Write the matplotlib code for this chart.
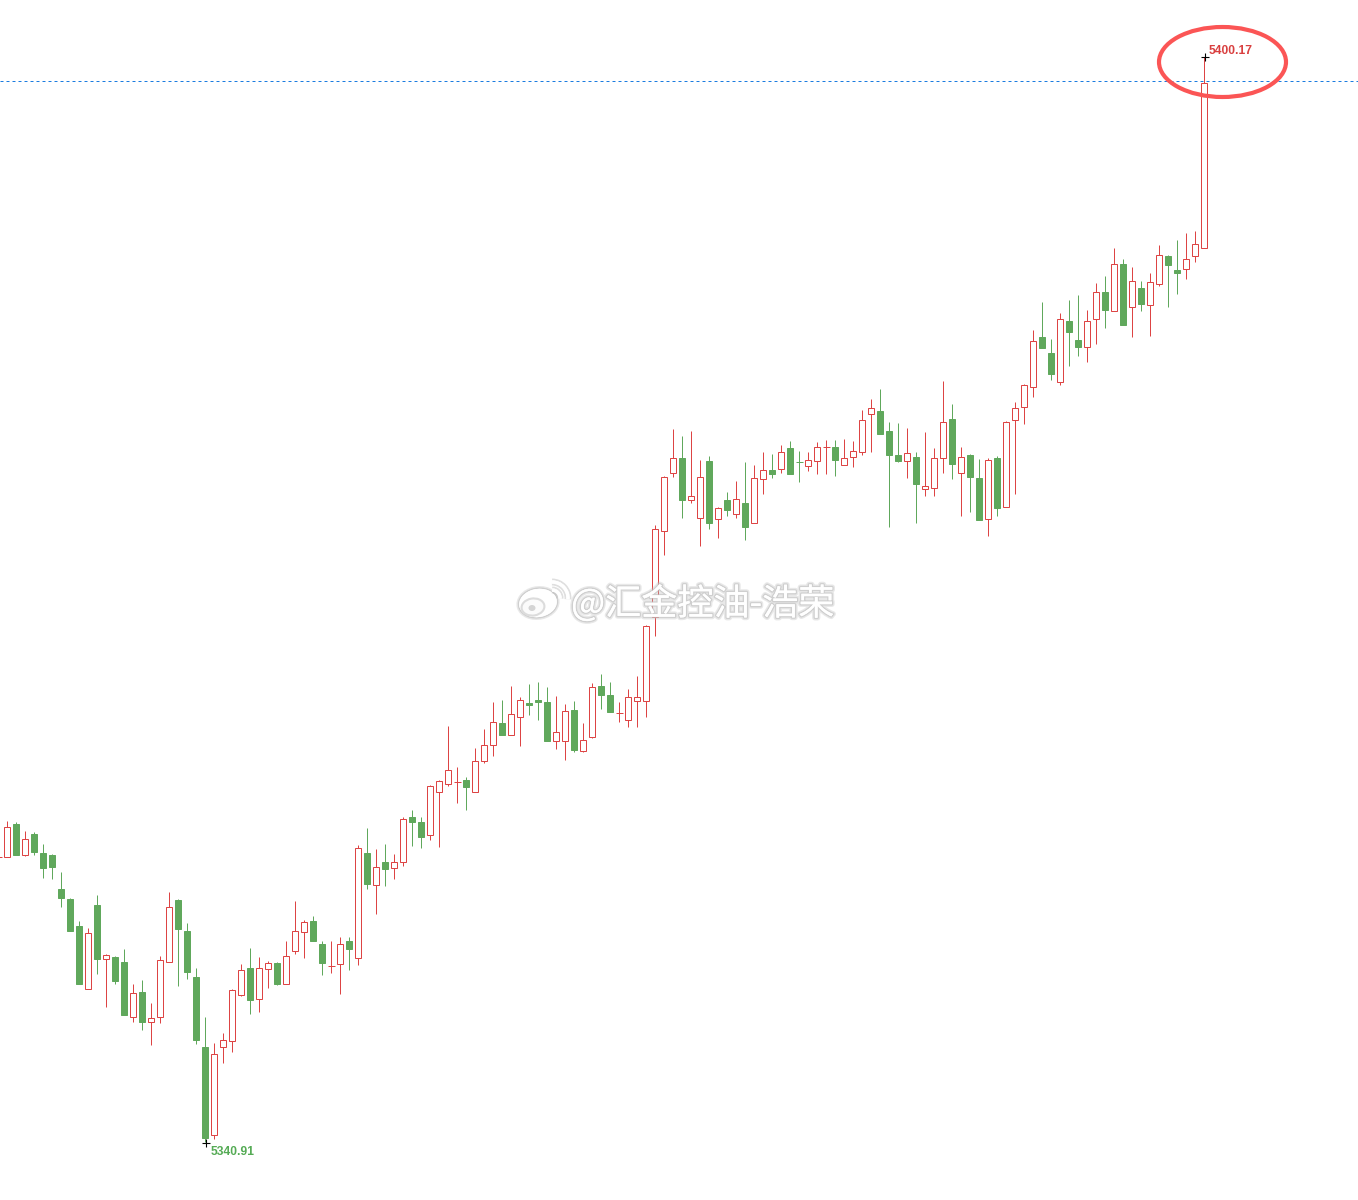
import numpy as np
import matplotlib
matplotlib.use("Agg")
import matplotlib.pyplot as plt
import matplotlib.patheffects as pe
from matplotlib.patches import Ellipse, Arc

# candle values, in steps above the session low
highs = [285,
    321,320,311,310,298,288,270,244,221,214,
    247,188,186,193,158,162,139,186,250,243,
    219,174,125,99,109,153,178,194,185,181,
    180,201,241,222,226,201,201,205,205,297,
    314,293,298,288,325,332,325,357,362,416,
    375,365,394,413,440,442,456,445,458,460,
    455,446,438,441,419,459,468,460,440,453,
    466,517,617,666,713,706,711,682,686,635,
    650,661,680,677,690,688,697,701,691,690,
    700,702,702,703,701,732,743,753,720,719,
    714,690,710,694,761,738,695,688,683,684,
    686,721,740,758,812,840,803,829,842,847,
    832,859,866,894,883,875,861,869,897,887,
    902,909,911,1085]
tops = [285,
    315,318,303,308,289,287,253,243,216,209,
    237,187,185,180,149,150,124,182,235,242,
    211,165,95,88,102,152,172,174,174,179,
    179,186,211,220,221,198,176,198,201,294,
    289,275,280,280,323,325,320,356,361,372,
    360,362,381,397,420,419,428,442,439,442,
    440,410,431,432,402,455,456,447,429,445,
    445,516,613,665,684,684,646,665,681,634,
    642,643,639,664,672,672,690,694,680,682,
    695,695,695,684,691,722,734,731,711,687,
    689,685,656,684,720,723,685,687,664,682,
    684,720,734,757,801,805,789,823,821,802,
    821,850,850,878,878,861,854,860,887,886,
    872,883,898,1059]
bottoms = [285,
    285,287,287,290,274,275,244,211,158,153,
    183,183,161,127,125,120,120,125,180,213,
    170,102,4,7,95,101,147,142,143,173,
    158,158,191,210,201,179,176,178,193,184,
    258,257,273,274,280,320,305,307,350,358,
    360,355,350,381,397,407,407,425,437,440,
    401,401,401,392,391,405,447,430,429,422,
    441,441,525,611,669,642,642,624,619,623,
    632,628,615,619,663,668,673,668,680,676,
    681,695,682,677,685,690,728,708,687,681,
    681,658,653,654,684,678,669,665,622,623,
    634,635,722,735,755,794,768,760,810,795,
    795,823,832,831,817,835,838,837,858,877,
    869,873,886,894]
lows = [285,
    285,287,286,287,264,263,235,211,158,153,
    168,135,158,127,120,112,97,119,180,156,
    163,98,0,3,79,90,146,128,130,154,
    157,158,188,184,201,167,169,148,172,177,
    253,228,256,263,276,296,294,302,295,356,
    339,332,350,379,386,407,407,396,427,422,
    401,393,382,390,390,404,433,430,420,415,
    415,425,506,587,665,624,639,596,613,604,
    626,624,602,619,648,664,669,668,660,671,
    668,668,666,677,675,687,690,708,615,680,
    664,619,646,646,669,663,626,630,622,606,
    626,635,648,718,745,794,762,757,776,786,
    780,798,814,831,817,805,831,806,856,835,
    848,863,880,894]
directions = ("R" "RGRGGGGGGR" "GRGGRGRRRG" "GGGRRRRGRR" "GRRRGGRRGR" "GRGRRGGRRR"
              "RGRRRGRRGG" "GRRGRRGGRR" "RRRRRGRRGR" "GRGRRGRGGR" "RRGRRRRGGG"
              "RGRRRGRGGR" "GRRRRGGRGG" "RRGRGRGRRG" "GRRR")

low_price = 5340.91
high_price = 5400.17
last_level = 1060.5   # dashed line, just under the last high
low_label = "5340.91"
high_label = "5400.17"
watermark = "@汇金控油-浩荣"

W, H = 1358, 1200
RED = "#dd4444"
GREEN = "#60a85c"


def to_price(level):
    return low_price + np.asarray(level, dtype=float) * (high_price - low_price) / highs[-1]


fig = plt.figure(figsize=(W / 100, H / 100), dpi=100, facecolor="white")
ax = fig.add_axes([0, 0, 1, 1])
ax.axis("off")

# 9 px per candle, first whole candle sits at x = 7.3
idx = np.arange(len(highs)) - 1
ax.set_xlim(-7.3 / 9, (W - 7.3) / 9)
ax.set_ylim(to_price(-58), to_price(1142))

px = 0.72
colors = [RED if d == "R" else GREEN for d in directions]
ax.vlines(idx, to_price(lows), to_price(highs), colors=colors, lw=px, zorder=2)

for i, t, b, d, col in zip(idx, tops, bottoms, directions, colors):
    if t == b:
        ax.hlines(to_price(t), i - 3.5 / 9, i + 3.5 / 9, colors=col, lw=px, zorder=3)
    else:
        ax.bar(i, to_price(t) - to_price(b), bottom=to_price(b), width=6 / 9,
               facecolor="white" if d == "R" else col, edgecolor=col, lw=px, zorder=3)

ax.axhline(to_price(last_level), color="#1b7ce0", lw=px, dashes=(3, 3), zorder=1)

# black crosses on the extremes, they sit 1 px right of the wick
ax.plot(idx[23] + 1 / 9, to_price(-1), "+", color="black", ms=6, mew=0.8, zorder=4)
ax.plot(idx[-1] + 1 / 9, to_price(highs[-1]), "+", color="black", ms=6, mew=0.8, zorder=4)

ax.annotate(low_label, (idx[23], to_price(0)), xytext=(5, -10), textcoords="offset pixels",
            color="#55ab55", fontsize=8.75, fontweight="bold", family="Liberation Sans",
            ha="left", va="center", zorder=5)
ax.annotate(high_label, (idx[-1], to_price(highs[-1])), xytext=(4.5, 6), textcoords="offset pixels",
            color="#d94040", fontsize=8.75, fontweight="bold", family="Liberation Sans",
            ha="left", va="center", zorder=5)

# red hand-drawn ring round the high
tr = fig.transFigure
ring = Ellipse((1222.5 / W, 1 - 62 / H), 127 / W, 70 / H, transform=tr, fill=False,
               edgecolor="#fb5555", lw=3.0, zorder=6)
fig.add_artist(ring)

# watermark
glow = [pe.withStroke(linewidth=4, foreground=(0.75, 0.75, 0.75, 0.35)),
        pe.withStroke(linewidth=2, foreground=(0.75, 0.75, 0.75, 0.6)),
        pe.Normal()]
arc_glow = [pe.withStroke(linewidth=5, foreground=(0.72, 0.72, 0.72, 0.45)),
            pe.Normal()]
fig.text(571 / W, 1 - 604 / H, watermark, color="white", fontsize=26,
         family=["Noto Sans CJK SC", "DejaVu Sans"], ha="left", va="center",
         path_effects=glow, zorder=7)

body = Ellipse((538 / W, 1 - 603 / H), 38 / W, 28 / H, angle=15, transform=tr,
               facecolor="white", edgecolor="none", path_effects=glow, zorder=7)
eye = Ellipse((533 / W, 1 - 607 / H), 23 / W, 17 / H, angle=12, transform=tr,
              facecolor="#fbfbfb", edgecolor="#dcdcdc", lw=1.5, zorder=7)
pupil = Ellipse((532 / W, 1 - 608 / H), 7 / W, 6 / H, transform=tr,
                facecolor="#d4d4d4", edgecolor="none", zorder=7)
for e in [body, eye, pupil]:
    fig.add_artist(e)
for radius in [16, 8]:
    arc = Arc((552 / W, 1 - 598 / H), 2 * radius / W, 2 * radius / H, theta1=-5, theta2=90,
              transform=tr, edgecolor="white", lw=2.4, path_effects=arc_glow, zorder=7)
    fig.add_artist(arc)

fig.savefig("out.png", dpi=100, facecolor="white")
